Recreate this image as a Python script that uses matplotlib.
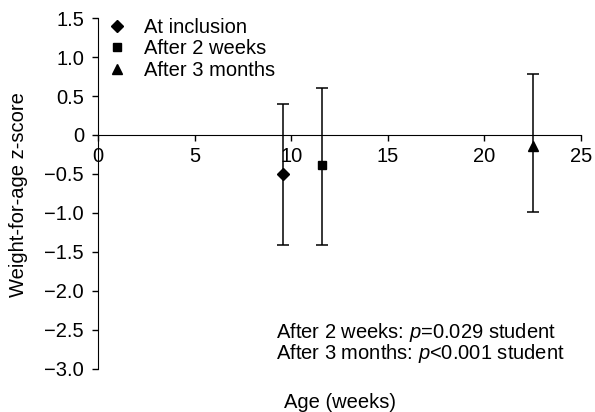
import matplotlib.pyplot as plt
from matplotlib.lines import Line2D
from matplotlib.ticker import FuncFormatter

plt.rcParams['font.family'] = ['Liberation Sans', 'DejaVu Sans']
plt.rcParams['mathtext.fontset'] = 'custom'
plt.rcParams['mathtext.it'] = 'Liberation Sans:italic'

labels = ["At inclusion", "After 2 weeks", "After 3 months"]
markers = ["D", "s", "^"]
marker_sizes = [6, 6, 7]
age_weeks = [9.6, 11.6, 22.5]
zscore = [-0.50, -0.38, -0.14]
upper = [0.40, 0.60, 0.78]
lower = [-1.41, -1.41, -0.99]
notes = ["After 2 weeks: $\\it{p}$=0.029 student",
         "After 3 months: $\\it{p}$<0.001 student"]

fig = plt.figure(figsize=(5.95, 4.12), dpi=100)
ax = fig.add_axes([0.1647, 0.1044, 0.8118, 0.8519])

for m, ms, x, y, hi, lo in zip(markers, marker_sizes, age_weeks, zscore, upper, lower):
    ax.errorbar([x], [y], yerr=[[y - lo], [hi - y]], fmt=m, color='black',
                markersize=ms, ecolor='black', elinewidth=1.1, capsize=4.5,
                capthick=1.1)

ax.set_xlim(0, 25)
ax.set_ylim(-3.0, 1.5)
ax.set_xticks(range(0, 26, 5))
ax.set_yticks([1.5, 1.0, 0.5, 0, -0.5, -1.0, -1.5, -2.0, -2.5, -3.0])
ax.yaxis.set_major_formatter(FuncFormatter(
    lambda v, p: '0' if abs(v) < 1e-9 else f"{v:.1f}".replace('-', '\u2212')))

ax.spines['top'].set_visible(False)
ax.spines['right'].set_visible(False)
ax.spines['bottom'].set_position(('data', 0))
ax.tick_params(axis='both', direction='out', length=4, width=1.0, labelsize=14.5)
ax.tick_params(axis='x', pad=4.5)
ax.tick_params(axis='y', pad=6)

ax.set_ylabel("Weight-for-age z-score", fontsize=14.5)
ax.yaxis.set_label_coords(-0.145, 0.496)
fig.text(0.572, 0.022, "Age (weeks)", fontsize=14.5, ha='center', va='center')

ax.text(9.2, -2.60, notes[0], fontsize=14.5, va='baseline')
ax.text(9.2, -2.87, notes[1], fontsize=14.5, va='baseline')

handles = [Line2D([], [], marker=m, color='black', linestyle='none', markersize=s)
           for m, s in zip(markers, [6, 6, 7])]
ax.legend(handles, labels, loc='upper left', bbox_to_anchor=(-0.015, 1.04),
          frameon=False, fontsize=14.5, handletextpad=0.75, labelspacing=0.12,
          handlelength=1.2, borderaxespad=0.3)

fig.savefig("out.png", dpi=100)
